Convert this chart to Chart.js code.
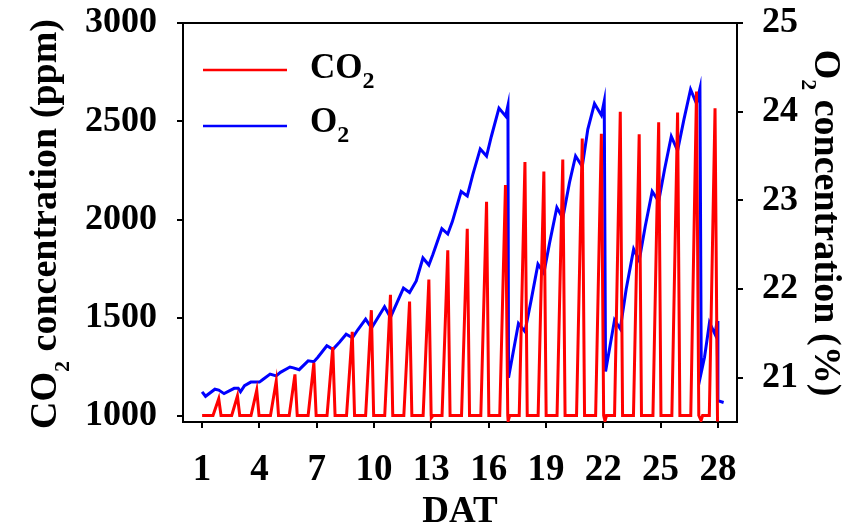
<!DOCTYPE html>
<html>
<head>
<meta charset="utf-8">
<script src="https://cdn.jsdelivr.net/npm/chart.js@4.4.0/dist/chart.umd.min.js"></script>
<style>
  html, body { margin: 0; padding: 0; background: #fff; }
  #wrap { width: 849px; height: 527px; position: relative; }
</style>
</head>
<body>
<div id="wrap"><canvas id="chart"></canvas></div>
<script>
// tick labels
const xTicks = [1, 4, 7, 10, 13, 16, 19, 22, 25, 28];
const co2Ticks = [1000, 1500, 2000, 2500, 3000];
const o2Ticks = [21, 22, 23, 24, 25];

// CO2 (ppm): flat baseline with one spike per day
const co2Base = 1003;
const co2PeakDays = [1.87, 2.85, 3.86, 4.88, 5.86, 6.85, 7.84, 8.86, 9.86, 10.86, 11.86, 12.87, 13.86,
  14.88, 15.89, 16.88, 17.9, 18.89, 19.88, 20.9, 21.9, 22.89, 23.88, 24.9, 25.89, 26.88, 27.85];
const co2Peaks = [1088, 1102, 1132, 1178, 1212, 1271, 1351, 1429, 1539, 1617, 1583, 1695, 1844,
  1953, 2090, 2176, 2293, 2244, 2305, 2412, 2437, 2548, 2434, 2495, 2544, 2651, 2566];
const co2DipDays = [12.98, 17.0, 22.07, 27.1];
const co2Dips = [992, 975, 975, 978];
const co2Start = { x: 1.0, y: 1003 };
const co2End = { x: 27.98, y: 972 };

// O2 (%)
const o2Days = [1.00, 1.18, 1.67, 1.87, 2.15, 2.68, 2.89, 3.01, 3.22, 3.55, 4.00, 4.18, 4.56, 4.88,
  5.10, 5.60, 5.78, 6.08, 6.55, 6.85, 7.06, 7.53, 7.85, 8.19, 8.54, 8.87, 9.15, 9.56, 9.87, 10.55,
  10.86, 11.54, 11.86, 12.21, 12.56, 12.87, 13.08, 13.55, 13.86, 14.10, 14.56, 14.88, 15.17, 15.56,
  15.89, 16.14, 16.54, 16.89, 17.01, 17.04, 17.56, 17.90, 18.23, 18.58, 18.89, 19.19, 19.57, 19.88,
  20.23, 20.55, 20.90, 21.19, 21.54, 21.90, 22.05, 22.12, 22.59, 22.89, 23.20, 23.59, 23.88, 24.20,
  24.56, 24.90, 25.21, 25.56, 25.89, 26.22, 26.57, 26.88, 27.06, 27.13, 27.30, 27.56, 27.85, 27.96,
  28.00, 28.30];
const o2Values = [20.84, 20.79, 20.87, 20.86, 20.82, 20.88, 20.88, 20.84, 20.91, 20.95, 20.95, 20.98,
  21.04, 21.02, 21.06, 21.12, 21.11, 21.09, 21.19, 21.18, 21.23, 21.36, 21.32, 21.40, 21.49, 21.45,
  21.54, 21.66, 21.56, 21.80, 21.68, 22.01, 21.96, 22.09, 22.35, 22.27, 22.39, 22.68, 22.62, 22.76,
  23.10, 23.05, 23.29, 23.58, 23.50, 23.72, 24.04, 23.95, 24.07, 21.00, 21.61, 21.52, 21.88, 22.28,
  22.18, 22.52, 22.92, 22.80, 23.20, 23.50, 23.38, 23.80, 24.09, 23.96, 24.12, 21.07, 21.65, 21.55,
  22.00, 22.45, 22.32, 22.71, 23.10, 22.99, 23.35, 23.72, 23.56, 23.91, 24.25, 24.09, 24.26, 21.06,
  21.23, 21.62, 21.49, 21.64, 20.74, 20.72];

// spike shape: flat until shortly before the peak, quick drop after it
const co2Points = [co2Start];
co2PeakDays.forEach((d, i) => {
  co2Points.push({ x: d - 0.3, y: co2Base });
  co2Points.push({ x: d, y: co2Peaks[i] });
  if (i < co2PeakDays.length - 1) co2Points.push({ x: d + 0.12, y: co2Base });
});
co2DipDays.forEach((d, i) => {
  co2Points.push({ x: d + 0.02, y: co2Dips[i] });
  co2Points.push({ x: d + 0.1, y: co2Base });
});
co2Points.push(co2End);
co2Points.sort((a, b) => a.x - b.x);

const o2Points = o2Days.map((d, i) => ({ x: d, y: o2Values[i] }));

const FONT = "'Liberation Serif', 'Times New Roman', serif";

// text with a subscript part, starting at x along the baseline
function subText(c, x, y, parts, size, subSize, drop) {
  parts.forEach(p => {
    const isSub = p.startsWith('_');
    const t = isSub ? p.slice(1) : p;
    c.font = `bold ${isSub ? subSize : size}px ${FONT}`;
    c.fillText(t, x, isSub ? y + drop : y);
    x += c.measureText(t).width;
  });
  return x;
}
function subWidth(c, parts, size, subSize) {
  let w = 0;
  parts.forEach(p => {
    const isSub = p.startsWith('_');
    const t = isSub ? p.slice(1) : p;
    c.font = `bold ${isSub ? subSize : size}px ${FONT}`;
    w += c.measureText(t).width;
  });
  return w;
}

const decor = {
  id: 'decor',
  afterDraw(chart) {
    const c = chart.ctx;
    const a = chart.chartArea;
    c.save();
    c.strokeStyle = '#000';
    c.lineWidth = 2;
    c.beginPath();
    c.moveTo(a.left - 1, a.top);
    c.lineTo(a.right + 1, a.top);
    c.stroke();

    c.fillStyle = '#000';
    c.textBaseline = 'alphabetic';
    c.textAlign = 'left';

    // left axis title
    const leftParts = ['CO', '_2', ' concentration (ppm)'];
    c.save();
    c.translate(56, 224);
    c.rotate(-Math.PI / 2);
    const lw = subWidth(c, leftParts, 38, 22);
    subText(c, -lw / 2, 0, leftParts, 38, 22, 13);
    c.restore();

    // right axis title
    const rightParts = ['O', '_2', ' concentration (%)'];
    c.save();
    c.translate(815, 223);
    c.rotate(Math.PI / 2);
    const rw = subWidth(c, rightParts, 38, 22);
    subText(c, -rw / 2, 0, rightParts, 38, 22, 13);
    c.restore();

    // x axis title
    c.font = `bold 37px ${FONT}`;
    c.textAlign = 'center';
    c.fillText('DAT', (a.left + a.right) / 2, 522);
    c.textAlign = 'left';

    // legend
    const sets = chart.data.datasets;
    const rows = [
      { parts: ['CO', '_2'], line: 70, base: 78 },
      { parts: ['O', '_2'], line: 126, base: 132 }
    ];
    rows.forEach((r, i) => {
      c.strokeStyle = sets[i].borderColor;
      c.lineWidth = 2.5;
      c.beginPath();
      c.moveTo(203, r.line);
      c.lineTo(287, r.line);
      c.stroke();
      subText(c, 310, r.base, r.parts, 35, 24, 10);
    });
    c.restore();
  }
};

const axisGrid = { display: true, drawOnChartArea: false, drawTicks: true, tickLength: 6, color: '#000', lineWidth: 2 };
const axisBorder = { display: true, color: '#000', width: 2 };

function noPad(ax) {
  ax.paddingTop = 0;
  ax.paddingBottom = 0;
  ax.paddingLeft = 0;
  ax.paddingRight = 0;
}

new Chart(document.getElementById('chart'), {
  type: 'line',
  data: {
    datasets: [
      { label: 'CO2', data: co2Points, yAxisID: 'y', borderColor: '#ff0000', borderWidth: 3,
        pointRadius: 0, tension: 0, fill: false },
      { label: 'O2', data: o2Points, yAxisID: 'y2', borderColor: '#0000ff', borderWidth: 3,
        pointRadius: 0, tension: 0, fill: false }
    ]
  },
  options: {
    responsive: true,
    maintainAspectRatio: false,
    animation: false,
    layout: { padding: { top: 23, left: 0, right: 0, bottom: 0 } },
    plugins: { legend: { display: false }, tooltip: { enabled: false } },
    scales: {
      x: {
        type: 'linear', min: 0, max: 29,
        afterBuildTicks: ax => { ax.ticks = xTicks.map(v => ({ value: v })); },
        afterFit: ax => { ax.height = 105; noPad(ax); },
        grid: axisGrid, border: axisBorder,
        ticks: { color: '#000', font: { family: FONT, size: 37, weight: 'bold' }, padding: 20,
          maxRotation: 0, autoSkip: false, callback: v => String(v) }
      },
      y: {
        position: 'left', min: 970, max: 3000,
        afterBuildTicks: ax => { ax.ticks = co2Ticks.map(v => ({ value: v })); },
        afterFit: ax => { ax.width = 183; noPad(ax); },
        grid: axisGrid, border: axisBorder,
        ticks: { color: '#000', font: { family: FONT, size: 36, weight: 'bold' }, padding: 20,
          callback: v => String(v) }
      },
      y2: {
        position: 'right', min: 20.5, max: 25,
        afterBuildTicks: ax => { ax.ticks = o2Ticks.map(v => ({ value: v })); },
        afterFit: ax => { ax.width = 112; noPad(ax); },
        grid: axisGrid, border: axisBorder,
        ticks: { color: '#000', font: { family: FONT, size: 36, weight: 'bold' }, padding: 19,
          callback: v => String(v) }
      }
    }
  },
  plugins: [decor]
});
</script>
</body>
</html>
